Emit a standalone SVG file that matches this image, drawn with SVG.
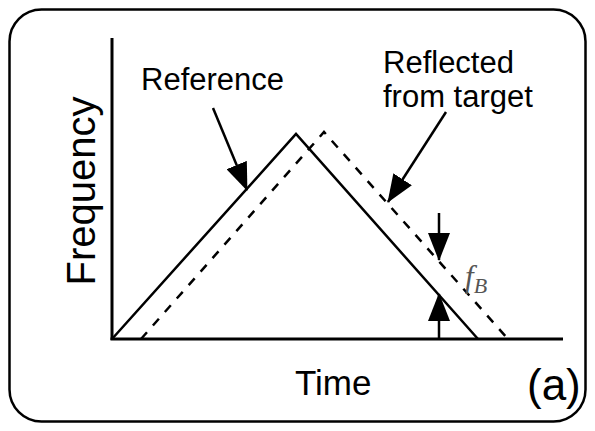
<svg xmlns="http://www.w3.org/2000/svg" width="595" height="431" viewBox="0 0 595 431">
<style>
.ln{fill:none;stroke:#000;stroke-width:2.5}
.ax{fill:none;stroke:#000;stroke-width:3}
.dash{fill:none;stroke:#000;stroke-width:2.5;stroke-dasharray:9 9}
.lbl{font-family:"Liberation Sans",Arial,sans-serif;fill:#000}
.fb{font-family:"Liberation Serif","Times New Roman",serif;font-style:italic;fill:#555}
</style>
<defs>
<marker id="ah" viewBox="0 0 28 22" refX="27" refY="11" markerWidth="28" markerHeight="22" markerUnits="userSpaceOnUse" orient="auto">
<path d="M0,0 L28,11 L0,22 z" fill="#000"/>
</marker>
</defs>
<rect id="frame" x="9.5" y="9.5" width="576" height="412" rx="32" ry="32" fill="#fff" stroke="#000" stroke-width="2.5"/>
<g id="axes">
<line class="ax" x1="112" y1="38" x2="112" y2="340"/>
<line class="ax" x1="110.5" y1="339" x2="563" y2="339"/>
</g>
<g id="reference-signal">
<polyline class="ln" points="112,339 296,134 478,339"/>
</g>
<g id="reflected-signal">
<polyline class="dash" points="141,339 324,132 508,339"/>
</g>
<g id="connectors">
<line class="ln" x1="213" y1="108" x2="247" y2="190" marker-end="url(#ah)"/>
<line class="ln" x1="446" y1="112" x2="388" y2="202" marker-end="url(#ah)"/>
<line class="ln" x1="439" y1="213" x2="439" y2="260" marker-end="url(#ah)"/>
<line class="ln" x1="439" y1="339" x2="439" y2="294" marker-end="url(#ah)"/>
</g>
<g id="labels">
<text class="lbl" x="141" y="90" font-size="31">Reference</text>
<text class="lbl" x="383" y="73" font-size="31">Reflected</text>
<text class="lbl" x="383" y="107" font-size="31">from target</text>
<text class="lbl" font-size="40" text-anchor="middle" transform="translate(95,191) rotate(-90)">Frequency</text>
<text class="lbl" x="295" y="395" font-size="35">Time</text>
<text class="lbl" x="527" y="400" font-size="44">(a)</text>
<text class="fb" x="465" y="287" font-size="31">f<tspan font-size="22" dy="6">B</tspan></text>
</g>
</svg>
